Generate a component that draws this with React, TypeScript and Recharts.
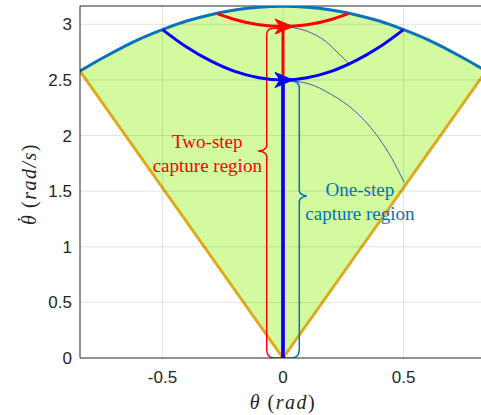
import React from 'react';
import { ComposedChart, Line, Area, Scatter, XAxis, YAxis, ReferenceLine } from 'recharts';

// axes
const thetaDomain = [-0.842, 0.842];
const omegaDomain = [0, 3.165];
const thetaTicks = [-0.5, 0, 0.5];
const omegaTicks = [0, 0.5, 1, 1.5, 2, 2.5, 3];

// outer boundary of the capture region
const boundaryTheta = [-0.842, -0.75, -0.6, -0.5, -0.4, -0.3, -0.2, -0.1, 0, 0.1, 0.2, 0.3, 0.4, 0.5, 0.6, 0.75, 0.842];
const boundaryOmega = [2.58, 2.695, 2.863, 2.953, 3.03, 3.087, 3.129, 3.154, 3.162, 3.154, 3.129, 3.087, 3.03, 2.953, 2.863, 2.695, 2.58];

// lower V-shaped boundary
const vTheta = [-0.842, 0, 0.842];
const vOmega = [2.58, 0, 2.58];

// two-step orbit (red) and one-step orbit (blue)
const redArcTheta = [-0.273, -0.2, -0.1, 0, 0.1, 0.2, 0.271];
const redArcOmega = [3.097, 3.044, 2.996, 2.98, 2.996, 3.044, 3.097];
const blueArcTheta = [-0.5, -0.4, -0.3, -0.2, -0.1, 0, 0.1, 0.2, 0.3, 0.4, 0.5];
const blueArcOmega = [2.953, 2.796, 2.671, 2.577, 2.52, 2.5, 2.52, 2.577, 2.671, 2.796, 2.953];

const redStemTheta = [0, 0];
const redStemOmega = [0, 2.98];
const blueStemTheta = [0, 0];
const blueStemOmega = [0, 2.5];

// thin swing curves
const swingATheta = [0.04, 0.1, 0.2, 0.3, 0.4, 0.45, 0.503];
const swingAOmega = [2.49, 2.47, 2.37, 2.216, 1.97, 1.8, 1.578];
const swingBTheta = [0.03, 0.1, 0.181, 0.22, 0.271];
const swingBOmega = [2.975, 2.938, 2.84, 2.76, 2.653];

// braces
const redBraceTheta = [0, -0.04, -0.055, -0.064, -0.0676, -0.0676, -0.072, -0.085, -0.1025, -0.085, -0.072, -0.0676, -0.0676, -0.064, -0.055, -0.04, 0];
const redBraceOmega = [2.965, 2.965, 2.958, 2.94, 2.91, 1.905, 1.885, 1.868, 1.861, 1.854, 1.837, 1.817, 0.075, 0.035, 0.01, 0, 0];
const blueBraceTheta = [0.02, 0.045, 0.058, 0.065, 0.0676, 0.0676, 0.072, 0.085, 0.098, 0.085, 0.072, 0.0676, 0.0676, 0.064, 0.055, 0.04, 0];
const blueBraceOmega = [2.49, 2.488, 2.478, 2.46, 2.435, 1.5, 1.48, 1.463, 1.456, 1.449, 1.432, 1.412, 0.075, 0.035, 0.01, 0, 0];

// arrow heads and annotations
const redArrow = [{ x: 0, y: 2.98 }];
const blueArrow = [{ x: 0, y: 2.5 }];
const labels = [
  { x: -0.314, y: 1.888, lines: ['Two-step', 'capture region'], color: '#ff0000' },
  { x: 0.319, y: 1.456, lines: ['One-step', 'capture region'], color: '#0072bd' },
];

const zip = (xs: number[], ys: number[]) => xs.map((x, i) => ({ x, y: ys[i] }));

const AXIS = '#262626';
const SANS = '"Liberation Sans", Arial, sans-serif';
const SERIF = '"Liberation Serif", "Times New Roman", serif';

const arrowShape = (color: string) => (props: any) => {
  const { cx, cy } = props;
  return (
    <path
      d={`M${cx + 10},${cy} L${cx - 8},${cy - 7.5} L${cx - 3},${cy} L${cx - 8},${cy + 7.5} Z`}
      fill={color}
      stroke={color}
      strokeWidth={1}
    />
  );
};

const LabelShape = (props: any) => {
  const { cx, cy, payload } = props;
  return (
    <text x={cx} y={cy} textAnchor="middle" fill={payload.color} fontFamily={SERIF} fontSize={19}>
      {payload.lines.map((l: string, i: number) => (
        <tspan key={i} x={cx} dy={i === 0 ? 0 : 24}>
          {l}
        </tspan>
      ))}
    </text>
  );
};

export default function App() {
  return (
    <div style={{ position: 'absolute', left: 0, top: 0 }}>
      <ComposedChart width={500} height={415} margin={{ top: 6, right: 14, left: 0, bottom: 0 }}>
        <XAxis
          dataKey="x"
          type="number"
          domain={thetaDomain}
          ticks={thetaTicks}
          allowDataOverflow
          height={57}
          tickLine={false}
          tickSize={0}
          tickMargin={13}
          axisLine={{ stroke: AXIS }}
          tick={{ fill: AXIS, fontSize: 17, fontFamily: SANS }}
          tickFormatter={(v: number) => String(v)}
          label={{
            content: ({ viewBox }: any) => (
              <text x={viewBox.x + viewBox.width / 2} y={viewBox.y + 51} textAnchor="middle" fill={AXIS} fontFamily={SERIF} fontSize={20} letterSpacing={1.5}>
                <tspan fontStyle="italic">θ</tspan>
                <tspan>{'\u00a0('}</tspan>
                <tspan fontStyle="italic">rad</tspan>
                <tspan>)</tspan>
              </text>
            ),
          }}
        />
        <YAxis
          dataKey="y"
          type="number"
          domain={omegaDomain}
          ticks={omegaTicks}
          allowDataOverflow
          width={80}
          tickLine={false}
          tickSize={0}
          tickMargin={8}
          axisLine={{ stroke: AXIS }}
          tick={{ fill: AXIS, fontSize: 17, fontFamily: SANS }}
          tickFormatter={(v: number) => String(v)}
          label={{
            content: ({ viewBox }: any) => {
              const x = viewBox.x + 36;
              const y = viewBox.y + viewBox.height / 2 + 2;
              return (
                <text x={x} y={y} transform={`rotate(-90, ${x}, ${y})`} textAnchor="middle" fill={AXIS} fontFamily={SERIF} fontSize={20} letterSpacing={1.5}>
                  <tspan fontStyle="italic">θ</tspan>
                  <tspan dx={-9} dy={-4}>˙</tspan>
                  <tspan dy={4}>{'\u00a0('}</tspan>
                  <tspan fontStyle="italic">rad/s</tspan>
                  <tspan>)</tspan>
                </text>
              );
            },
          }}
        />
        <Area data={zip(boundaryTheta, boundaryOmega)} dataKey="y" type="monotone" fill="#d4fa9f" fillOpacity={1} stroke="none" isAnimationActive={false} />
        <Area data={zip(vTheta, vOmega)} dataKey="y" type="linear" fill="#ffffff" fillOpacity={1} stroke="#dcac1e" strokeWidth={3} isAnimationActive={false} />
        {thetaTicks.map((t) => (
          <ReferenceLine key={`gx${t}`} x={t} stroke={AXIS} strokeOpacity={0.13} />
        ))}
        {omegaTicks.slice(1).map((t) => (
          <ReferenceLine key={`gy${t}`} y={t} stroke={AXIS} strokeOpacity={0.13} />
        ))}
        <ReferenceLine y={omegaDomain[1]} stroke={AXIS} strokeWidth={1} />
        <Line data={zip(boundaryTheta, boundaryOmega)} dataKey="y" type="monotone" stroke="#0a72b8" strokeWidth={3} dot={false} isAnimationActive={false} />
        <Line data={zip(swingATheta, swingAOmega)} dataKey="y" type="monotone" stroke="#3a62b0" strokeWidth={1} dot={false} isAnimationActive={false} />
        <Line data={zip(swingBTheta, swingBOmega)} dataKey="y" type="monotone" stroke="#3a62b0" strokeWidth={1} dot={false} isAnimationActive={false} />
        <Line data={zip(redBraceTheta, redBraceOmega)} dataKey="y" type="linear" stroke="#ff0000" strokeWidth={1.5} dot={false} isAnimationActive={false} />
        <Line data={zip(blueBraceTheta, blueBraceOmega)} dataKey="y" type="linear" stroke="#0072bd" strokeWidth={1.5} dot={false} isAnimationActive={false} />
        <Line data={zip(redStemTheta, redStemOmega)} dataKey="y" type="linear" stroke="#ff0000" strokeWidth={3} dot={false} isAnimationActive={false} />
        <Line data={zip(blueStemTheta, blueStemOmega)} dataKey="y" type="linear" stroke="#0000ff" strokeWidth={3.5} dot={false} isAnimationActive={false} />
        <Line data={zip(redArcTheta, redArcOmega)} dataKey="y" type="monotone" stroke="#ff0000" strokeWidth={3} dot={false} isAnimationActive={false} />
        <Line data={zip(blueArcTheta, blueArcOmega)} dataKey="y" type="monotone" stroke="#0000ff" strokeWidth={3} dot={false} isAnimationActive={false} />
        <Scatter data={redArrow} dataKey="y" shape={arrowShape('#ff0000')} isAnimationActive={false} />
        <Scatter data={blueArrow} dataKey="y" shape={arrowShape('#0000ff')} isAnimationActive={false} />
        <Scatter data={labels} dataKey="y" shape={LabelShape} isAnimationActive={false} />
      </ComposedChart>
    </div>
  );
}
